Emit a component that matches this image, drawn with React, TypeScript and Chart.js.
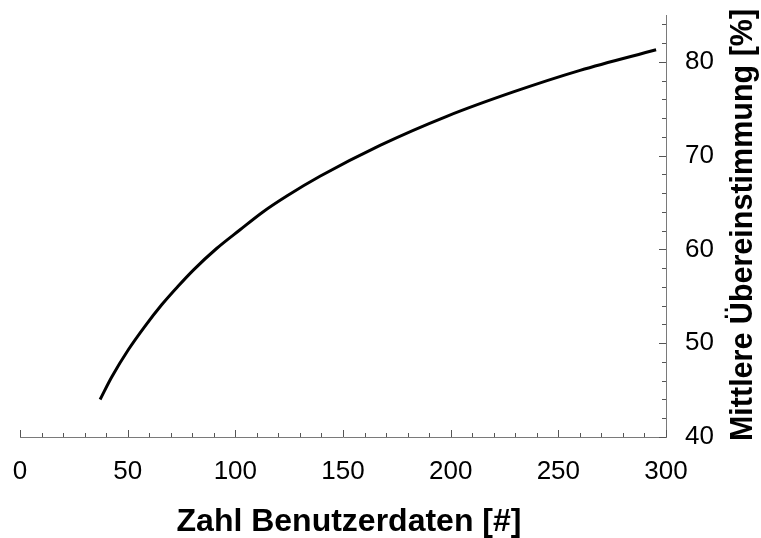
import React, { useEffect, useRef } from "react";
import { Chart, registerables } from "chart.js";

Chart.register(...registerables);

// Data
const userCounts = [37.2, 42.6, 50.3, 58.0, 65.8, 73.5, 80.5, 91.3, 102.2, 112.8, 123.9, 139.3, 167.2, 198.2, 229.1, 260.1, 295.4];
const agreement = [44.0, 46.4, 49.3, 51.8, 54.1, 56.1, 57.8, 60.1, 62.1, 64.0, 65.7, 67.8, 71.1, 74.2, 76.8, 79.1, 81.3];
const xTickValues = [0, 50, 100, 150, 200, 250, 300];
const yTickValues = [40, 50, 60, 70, 80];
const xTitle = "Zahl Benutzerdaten [#]";
const yTitle = "Mittlere Übereinstimmung [%]";

const FONT = '"Liberation Sans", Arial, sans-serif';
const AXIS_COLOR = "#7a7a7a";

const decorPlugin = {
  id: "decor",
  afterDraw(chart: any) {
    const { ctx, scales, chartArea } = chart;
    const x = scales.x;
    const y = scales.y;
    ctx.save();
    ctx.strokeStyle = "#555";
    ctx.lineWidth = 1;
    ctx.beginPath();
    for (let v = 0; v <= 300; v += 10) {
      const px = Math.round(x.getPixelForValue(v)) + 0.5;
      const len = v % 50 === 0 ? 7 : 4;
      ctx.moveTo(px, chartArea.bottom);
      ctx.lineTo(px, chartArea.bottom - len);
    }
    for (let v = 40; v <= 84; v += 2) {
      const py = Math.round(y.getPixelForValue(v)) + 0.5;
      const len = v % 10 === 0 ? 7 : 4;
      ctx.moveTo(chartArea.right, py);
      ctx.lineTo(chartArea.right - len, py);
    }
    ctx.stroke();

    ctx.fillStyle = "#000";
    ctx.textAlign = "center";
    ctx.textBaseline = "alphabetic";
    ctx.font = "bold 32px " + FONT;
    ctx.fillText(xTitle, 349, 531);

    ctx.font = "bold 30.5px " + FONT;
    ctx.translate(752, 225);
    ctx.rotate(-Math.PI / 2);
    ctx.fillText(yTitle, 0, 0);
    ctx.restore();
  },
};

export default function App() {
  const ref = useRef<HTMLCanvasElement | null>(null);

  useEffect(() => {
    if (!ref.current) return;
    const chart = new Chart(ref.current, {
      type: "line",
      data: {
        datasets: [
          {
            data: userCounts.map((u, i) => ({ x: u, y: agreement[i] })),
            borderColor: "#000",
            borderWidth: 3,
            pointRadius: 0,
            fill: false,
            cubicInterpolationMode: "monotone",
          },
        ],
      },
      options: {
        animation: false,
        responsive: false,
        maintainAspectRatio: false,
        devicePixelRatio: 1,
        layout: { padding: { left: 20, top: 15, right: 0, bottom: 0 } },
        plugins: { legend: { display: false }, tooltip: { enabled: false }, title: { display: false } },
        scales: {
          x: {
            type: "linear",
            position: "bottom",
            min: 0,
            max: 300,
            grid: { display: false, drawTicks: false },
            border: { display: true, color: AXIS_COLOR, width: 1 },
            ticks: {
              stepSize: 50,
              padding: 19,
              maxRotation: 0,
              color: "#000",
              font: { family: FONT, size: 26 },
              callback: (v: any) => (xTickValues.includes(Number(v)) ? String(v) : ""),
            },
            afterFit: (s: any) => {
              s.height = 101;
              s.paddingLeft = 0;
              s.paddingRight = 0;
            },
          },
          y: {
            type: "linear",
            position: "right",
            min: 40,
            max: 85,
            grid: { display: false, drawTicks: false },
            border: { display: true, color: AXIS_COLOR, width: 1 },
            ticks: {
              stepSize: 10,
              padding: 19,
              color: "#000",
              font: { family: FONT, size: 26 },
              callback: (v: any) => (yTickValues.includes(Number(v)) ? String(v) : ""),
            },
            afterFit: (s: any) => {
              s.width = 95;
              s.paddingTop = 0;
              s.paddingBottom = 0;
            },
          },
        },
      },
      plugins: [decorPlugin],
    } as any);
    return () => chart.destroy();
  }, []);

  return (
    <div style={{ position: "fixed", left: 0, top: 0, width: 761, height: 538, background: "#fff" }}>
      <canvas ref={ref} width={761} height={538} style={{ display: "block", width: 761, height: 538 }} />
    </div>
  );
}
